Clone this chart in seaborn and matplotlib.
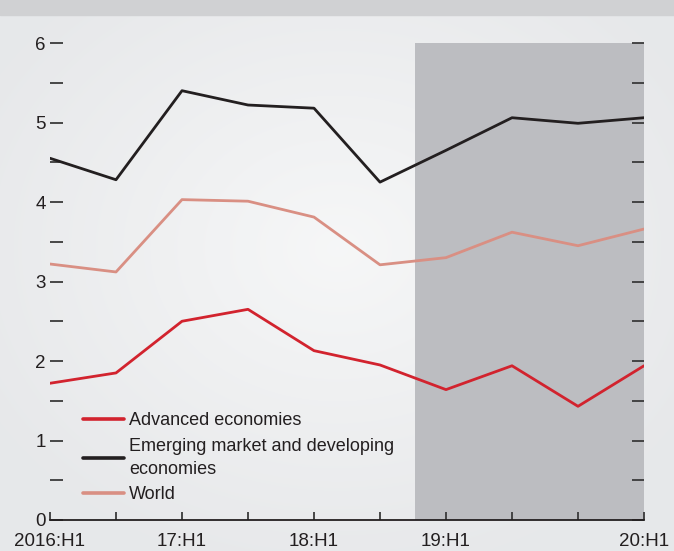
import numpy as np
import pandas as pd
import matplotlib
matplotlib.use("Agg")
import matplotlib.pyplot as plt
import seaborn as sns

periods = ["2016:H1", "16:H2", "17:H1", "17:H2", "18:H1", "18:H2", "19:H1", "19:H2", "20:H1a", "20:H1"]
tick_labels = ["2016:H1", "", "17:H1", "", "18:H1", "", "19:H1", "", "", "20:H1"]
advanced = [1.72, 1.85, 2.50, 2.65, 2.13, 1.95, 1.64, 1.94, 1.43, 1.94]
emerging = [4.55, 4.28, 5.40, 5.22, 5.18, 4.25, 4.65, 5.06, 4.99, 5.06]
world = [3.22, 3.12, 4.03, 4.01, 3.81, 3.21, 3.30, 3.62, 3.45, 3.66]
series_names = ["Advanced economies", "Emerging market and developing\neconomies", "World"]
colors = ["#d2232e", "#231f20", "#d98f83"]
shade_start = 5.53

idx = np.arange(len(periods))
df = pd.concat([
    pd.DataFrame({"x": idx, "value": advanced, "series": series_names[0]}),
    pd.DataFrame({"x": idx, "value": emerging, "series": series_names[1]}),
    pd.DataFrame({"x": idx, "value": world, "series": series_names[2]}),
])

sns.set_theme(style="white")
plt.rcParams["font.family"] = ["Liberation Sans", "DejaVu Sans"]

W, H = 674, 551
fig = plt.figure(figsize=(W / 100, H / 100), dpi=100)

# background gradient
bg = fig.add_axes([0, 0, 1, 1])
yy, xx = np.mgrid[0:H, 0:W]
r = np.sqrt(((xx - W * 0.5) / (W * 0.6)) ** 2 + ((yy - H * 0.45) / (H * 0.6)) ** 2)
r = np.clip(r, 0, 1)
c0 = np.array([0.965, 0.968, 0.970])
c1 = np.array([0.905, 0.910, 0.918])
img = c0[None, None, :] * (1 - r[..., None]) + c1[None, None, :] * r[..., None]
bg.imshow(img, aspect="auto", extent=[0, W, H, 0])
bg.axhspan(0, 15, color="#d0d1d3")
bg.set_xlim(0, W)
bg.set_ylim(H, 0)
bg.axis("off")

ax = fig.add_axes([50 / W, (H - 520) / H, (644 - 50) / W, (520 - 43) / H])
ax.patch.set_alpha(0)
ax.axvspan(shade_start, 9, ymin=0, ymax=1, color="#bcbdc1", zorder=0, lw=0)

sns.lineplot(data=df, x="x", y="value", hue="series", palette=colors, ax=ax,
             linewidth=2.0, legend=True, zorder=3)

ax.set_xlim(0, 9)
ax.set_ylim(0, 6)
ax.set_xlabel("")
ax.set_ylabel("")

for s in ["top", "left", "right"]:
    ax.spines[s].set_visible(False)
ax.spines["bottom"].set_color("#231f20")
ax.spines["bottom"].set_linewidth(1.3)

ax.set_xticks(idx)
ax.set_xticklabels(tick_labels, fontsize=13.5, color="#231f20")
ax.set_yticks(np.arange(0, 6.01, 0.5))
ax.set_yticklabels([str(int(v)) if v == int(v) else "" for v in np.arange(0, 6.01, 0.5)],
                   fontsize=13.5, color="#231f20")
ax.tick_params(axis="x", direction="in", length=6, width=1.3, color="#3a3a3a", pad=9,
               bottom=True)
ax.tick_params(axis="y", direction="in", length=9, width=1.3, color="#3a3a3a", pad=3,
               left=True, right=True)

leg = ax.legend(loc="lower left", bbox_to_anchor=(0.044, 0.02), frameon=False,
                fontsize=13, handlelength=2.25, handletextpad=0.3, labelspacing=0.45,
                borderaxespad=0)
for line in leg.get_lines():
    line.set_linewidth(2.6)
for t in leg.get_texts():
    t.set_color("#231f20")
    t.set_linespacing(1.5)

fig.savefig("out.png", dpi=100)
